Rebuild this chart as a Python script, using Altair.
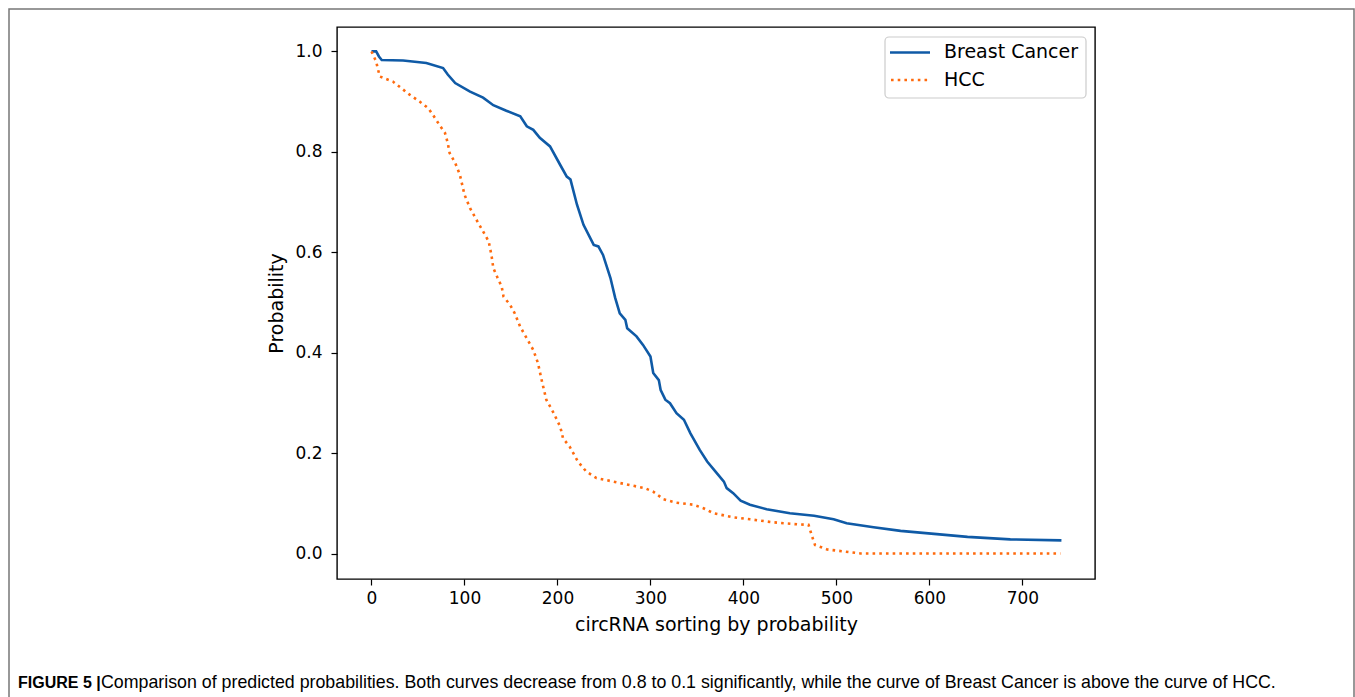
import altair as alt
import pandas as pd

# ---- data ----
bc_x = [0, 5, 8, 11, 34, 59, 77, 82, 90, 106, 120, 131, 145, 160, 167, 174, 181, 192, 203, 210,
        214, 221, 228, 239, 244, 249, 257, 262, 267, 273, 275, 285, 292, 300, 303, 309, 311, 316,
        321, 328, 336, 343, 353, 361, 370, 379, 382, 389, 397, 407, 425, 450, 476, 497, 511, 540,
        569, 605, 641, 687, 742]
bc_y = [1.000, 1.000, 0.990, 0.983, 0.982, 0.977, 0.967, 0.954, 0.937, 0.920, 0.908, 0.893, 0.882,
        0.871, 0.851, 0.844, 0.828, 0.811, 0.774, 0.751, 0.745, 0.695, 0.655, 0.615, 0.612, 0.595,
        0.549, 0.510, 0.479, 0.466, 0.449, 0.433, 0.416, 0.393, 0.360, 0.346, 0.326, 0.307, 0.300,
        0.280, 0.267, 0.240, 0.207, 0.184, 0.164, 0.144, 0.131, 0.121, 0.106, 0.098, 0.089, 0.081,
        0.076, 0.069, 0.061, 0.053, 0.046, 0.040, 0.034, 0.029, 0.027]

hcc_x = [0, 5, 7, 9, 23, 41, 52, 61, 66, 73, 79, 82, 84, 90, 95, 100, 106, 115, 120, 126, 129, 131,
         135, 140, 142, 149, 154, 160, 167, 174, 179, 183, 188, 196, 203, 206, 213, 222, 231, 242,
         260, 278, 294, 303, 314, 328, 346, 357, 368, 389, 407, 432, 458, 470, 474, 477, 490, 508,
         526, 741]
hcc_y = [1.000, 0.980, 0.964, 0.950, 0.940, 0.914, 0.900, 0.887, 0.874, 0.854, 0.838, 0.818, 0.798,
         0.778, 0.755, 0.715, 0.688, 0.658, 0.642, 0.622, 0.595, 0.569, 0.552, 0.532, 0.512, 0.496,
         0.479, 0.452, 0.429, 0.406, 0.380, 0.346, 0.307, 0.280, 0.253, 0.230, 0.214, 0.184, 0.164,
         0.151, 0.144, 0.137, 0.131, 0.124, 0.109, 0.102, 0.098, 0.091, 0.081, 0.073, 0.069, 0.063,
         0.059, 0.058, 0.034, 0.018, 0.009, 0.005, 0.001, 0.001]

series_names = ["Breast Cancer", "HCC"]
x_ticks = [0, 100, 200, 300, 400, 500, 600, 700]
y_ticks = [0.0, 0.2, 0.4, 0.6, 0.8, 1.0]
x_title = "circRNA sorting by probability"
y_title = "Probability"
caption_bold = "FIGURE 5 |"
caption_text = ("Comparison of predicted probabilities. Both curves decrease from 0.8 to 0.1 "
                "significantly, while the curve of Breast Cancer is above the curve of HCC.")

BLUE = "#0f5aa6"
ORANGE = "#ff6a0d"
FONT = "DejaVu Sans"

W, H = 758, 552
PAD_L, PAD_T = 337, 27

bc = pd.DataFrame({"x": bc_x, "y": bc_y, "order": range(len(bc_x))})
hcc = pd.DataFrame({"x": hcc_x, "y": hcc_y, "order": range(len(hcc_x))})

xscale = alt.Scale(domain=[-37.1, 778.1], nice=False, zero=False)
yscale = alt.Scale(domain=[-0.0498, 1.0486], nice=False, zero=False)

xaxis = alt.Axis(values=x_ticks, title=x_title, grid=False, domain=False, tickColor="black",
                 tickSize=6, tickWidth=1.2, labelFont=FONT, labelFontSize=17, labelColor="black",
                 labelPadding=5, titleFont=FONT, titleFontSize=19, titleFontWeight="normal",
                 titleColor="black", titlePadding=9, labelFlush=False)
yaxis = alt.Axis(values=y_ticks, format=".1f", title=y_title, grid=False, domain=False,
                 tickColor="black", tickSize=6, tickWidth=1.2, labelFont=FONT, labelFontSize=17,
                 labelColor="black", labelPadding=9, titleFont=FONT, titleFontSize=19,
                 titleFontWeight="normal", titleColor="black", titlePadding=8, labelFlush=False)

blue_line = alt.Chart(bc).mark_line(color=BLUE, strokeWidth=2.6, clip=True).encode(
    x=alt.X("x:Q", scale=xscale, axis=xaxis),
    y=alt.Y("y:Q", scale=yscale, axis=yaxis),
    order="order:Q",
)
orange_line = alt.Chart(hcc).mark_line(color=ORANGE, strokeWidth=2.6, strokeDash=[2.6, 4.1],
                                       strokeCap="butt", clip=True).encode(
    x=alt.X("x:Q", scale=xscale),
    y=alt.Y("y:Q", scale=yscale),
    order="order:Q",
)

one = pd.DataFrame({"a": [0]})

# legend (matplotlib-style box in upper right)
leg_box = alt.Chart(one).mark_rect(fill="white", fillOpacity=0.8, stroke="#cccccc",
                                   strokeWidth=1.2, cornerRadius=4).encode(
    x=alt.value(548), x2=alt.value(749), y=alt.value(10), y2=alt.value(71))
leg_blue = alt.Chart(one).mark_rule(color=BLUE, strokeWidth=2.6).encode(
    x=alt.value(553), x2=alt.value(593), y=alt.value(25.5))
leg_orange = alt.Chart(one).mark_rule(color=ORANGE, strokeWidth=2.6, strokeDash=[2.6, 4.1],
                                      strokeCap="butt").encode(
    x=alt.value(554), x2=alt.value(592), y=alt.value(53))
leg_text = alt.Chart(pd.DataFrame({"t": series_names, "yy": [25, 53]})).mark_text(
    align="left", baseline="middle", font=FONT, fontSize=19, color="black").encode(
    x=alt.value(607), y=alt.Y("yy:Q", scale=None), text="t:N")

# outer figure frame
frame = alt.Chart(one).mark_rect(fill=None, stroke="#777777", strokeWidth=1.5).encode(
    x=alt.value(9 - PAD_L), x2=alt.value(1354 - PAD_L),
    y=alt.value(9 - PAD_T), y2=alt.value(720 - PAD_T))

cap_b = alt.Chart(one).mark_text(align="left", baseline="alphabetic",
                                 font="Liberation Sans", fontWeight="bold",
                                 fontSize=16, color="black").encode(
    x=alt.value(18 - PAD_L), y=alt.value(688 - PAD_T), text=alt.value(caption_bold))
cap_t = alt.Chart(one).mark_text(align="left", baseline="alphabetic",
                                 font="Liberation Sans", fontSize=17.8, color="black").encode(
    x=alt.value(101 - PAD_L), y=alt.value(688 - PAD_T), text=alt.value(caption_text))

chart = alt.layer(frame, blue_line, orange_line, leg_box, leg_blue, leg_orange, leg_text,
                  cap_b, cap_t).properties(
    width=W, height=H,
    autosize=alt.AutoSizeParams(type="none"),
    padding={"left": PAD_L, "top": PAD_T, "right": 1355 - PAD_L - W, "bottom": 697 - PAD_T - H},
    background="white",
).configure_view(stroke="black", strokeWidth=1.4)

chart.save("out.html", embed_options={"renderer": "svg", "actions": False})
